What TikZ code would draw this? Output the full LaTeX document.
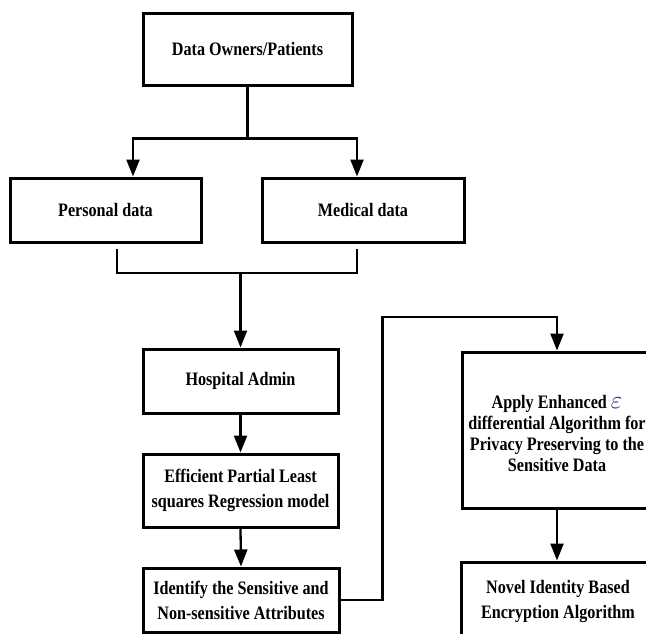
\documentclass[tikz,border=0pt]{standalone}
\usepackage{fontspec}
\setmainfont{Liberation Serif}[FakeStretch=0.85]
\usetikzlibrary{arrows.meta}
\definecolor{epscol}{rgb}{0.12,0.12,0.42}
\begin{document}
\begin{tikzpicture}[x=1pt,y=-1pt,
  box/.style={draw, line width=3pt, align=center, inner sep=0pt,
    font=\fontsize{19}{25}\selectfont\bfseries},
  arr/.style={line width=2.3pt, -{Triangle[length=17pt,width=13pt]}},
  conn/.style={line width=2.3pt}]
\clip (0,0) rectangle (646,633);
\fill[white] (0,0) rectangle (646,633);
% boxes
\node[box, minimum width=209, minimum height=72] (owners) at (247.5,49) {Data Owners/Patients};
\node[box, minimum width=191, minimum height=64] (personal) at (105.5,210) {Personal data};
\node[box, minimum width=202, minimum height=64] (medical) at (363,210) {Medical data};
\node[box, minimum width=195, minimum height=64] (admin) at (240.5,381) {Hospital Admin};
\node[box, minimum width=195, minimum height=73] (epls) at (240.5,490.5) {Efficient Partial Least\\squares Regression model};
\node[box, minimum width=196, minimum height=64] (identify) at (241,600) {Identify the Sensitive and\\Non-sensitive Attributes};
\node[box, minimum width=190, minimum height=156, font=\fontsize{19}{21}\selectfont\bfseries] (apply) at (557,430)
  {\mbox{}\\[0pt]Apply Enhanced {\color{epscol}\fontsize{27}{27}\selectfont$\varepsilon$}\\differential Algorithm for\\Privacy Preserving to the\\Sensitive Data};
\node[box, minimum width=194, minimum height=78] (novel) at (558,601) {Novel Identity Based\\Encryption Algorithm};
% connectors
\coordinate (split) at ([yshift=-52]owners.south);
\draw[conn] (owners.south) -- (split);
\draw[arr] (split) -| ([xshift=27.5]personal.north);
\draw[arr] (split) -| ([xshift=-6]medical.north);
\coordinate (pbot) at ([shift={(11.5,5)}]personal.south);
\coordinate (mbot) at ([shift={(-6,5)}]medical.south);
\coordinate (join) at (admin.north |- 0,273);
\draw[conn] (pbot) |- (join) -| (mbot);
\draw[arr] (join) -- (admin.north);
\draw[arr] (admin.south) -- (epls.north);
\draw[arr] (epls.south) -- (identify.north);
\coordinate (turn) at ([xshift=42]identify.east);
\draw[arr] (identify.east) -- (turn) |- (apply.north |- 0,317) -- (apply.north);
\draw[arr] (apply.south) -- (apply.south |- novel.north);
\end{tikzpicture}
\end{document}
